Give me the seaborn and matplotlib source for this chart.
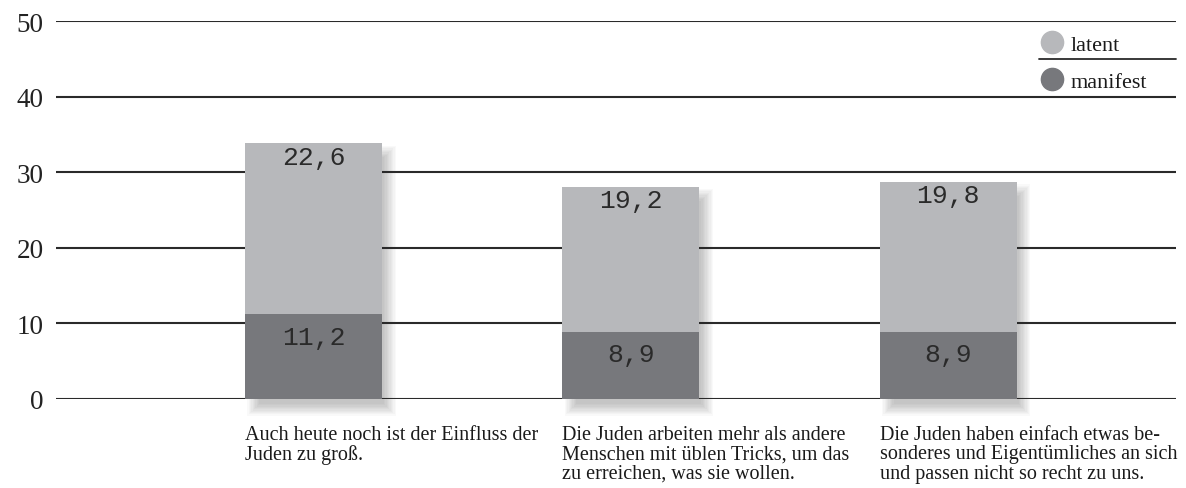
import matplotlib
matplotlib.use("Agg")
import matplotlib.pyplot as plt
from matplotlib.lines import Line2D
from matplotlib.patches import Rectangle
import seaborn as sns
import pandas as pd
import numpy as np

categories = [
    "Auch heute noch ist der Einfluss der\nJuden zu groß.",
    "Die Juden arbeiten mehr als andere\nMenschen mit üblen Tricks, um das\nzu erreichen, was sie wollen.",
    "Die Juden haben einfach etwas be-\nsonderes und Eigentümliches an sich\nund passen nicht so recht zu uns.",
]
manifest = [11.2, 8.9, 8.9]
latent = [22.6, 19.2, 19.8]
yticks = [0, 10, 20, 30, 40, 50]
series_names = ["latent", "manifest"]

C_LAT = "#b7b8bb"
C_MAN = "#77787c"
GRID = "#2a2a2a"

sns.set_theme(style="white")
plt.rcParams["font.family"] = ["Liberation Serif", "DejaVu Serif"]

df = pd.DataFrame({
    "cat": categories,
    "manifest": manifest,
    "latent": latent,
})
df["total"] = df["manifest"] + df["latent"]

fig = plt.figure(figsize=(11.86, 4.89), dpi=100)
ax = fig.add_axes([56 / 1186, 89 / 489, 1120 / 1186, 378 / 489])

W = 0.432
sns.barplot(data=df, x="cat", y="total", color=C_LAT, width=W, saturation=1,
            ax=ax, zorder=3, linewidth=0)
sns.barplot(data=df, x="cat", y="manifest", color=C_MAN, width=W, saturation=1,
            ax=ax, zorder=4, linewidth=0)

# soft drop shadow behind bars (stacked translucent rectangles), offset right/down
px_x = 1 / 317.0
px_y = 50 / 378.0
for i, tot in enumerate(df["total"]):
    left = i - W / 2 + 14 * px_x
    right = i + W / 2 + 2 * px_x
    bottom = -5 * px_y
    top = tot - 14 * px_y
    for k in range(0, 10):
        p = k * 1.3
        ax.add_patch(Rectangle((left - p * px_x, bottom - p * px_y),
                               (right - left) + 2 * p * px_x,
                               (top - bottom) + 2 * p * px_y,
                               facecolor="black", alpha=0.022, linewidth=0,
                               zorder=2.5, clip_on=False))

for y in yticks:
    ax.axhline(y, color=GRID, linewidth=1.5, zorder=2.7)

for i in range(len(categories)):
    ax.text(i, manifest[i] + latent[i] - 1.75, f"{latent[i]:.1f}".replace(".", ","),
            ha="center", va="center", fontsize=19, family="Liberation Mono",
            color="#2a2a2a", zorder=6)
    ax.text(i, manifest[i] - 3.0, f"{manifest[i]:.1f}".replace(".", ","),
            ha="center", va="center", fontsize=19, family="Liberation Mono",
            color="#2a2a2a", zorder=6)
    ax.text(i - W / 2, -3.4, categories[i], ha="left", va="top", fontsize=14.5,
            color="#1a1a1a", linespacing=1.04)

ax.set_xlim(-0.812, 2.718)
ax.set_ylim(0, 50)
ax.set_yticks(yticks)
ax.set_yticklabels([str(t) for t in yticks], fontsize=19.5, color="#222222")
ax.tick_params(axis="y", length=0, pad=9)
ax.set_xticks([])
ax.set_xlabel("")
ax.set_ylabel("")
for s in ax.spines.values():
    s.set_visible(False)

handles = [
    Line2D([], [], marker="o", linestyle="", markersize=16, color=C_LAT),
    Line2D([], [], marker="o", linestyle="", markersize=16, color=C_MAN),
]
leg = ax.legend(handles, series_names, loc="upper right",
                bbox_to_anchor=(0.986, 0.999),
                frameon=False, fontsize=16, labelspacing=0.72, handletextpad=0.25,
                handlelength=1.2, borderaxespad=0.2)
for t in leg.get_texts():
    t.set_color("#1a1a1a")
ax.plot([0.878, 1.0], [0.9, 0.9], transform=ax.transAxes, color=GRID,
        linewidth=1.3, zorder=2, clip_on=False)

fig.savefig("out.png", dpi=100, facecolor="white")
